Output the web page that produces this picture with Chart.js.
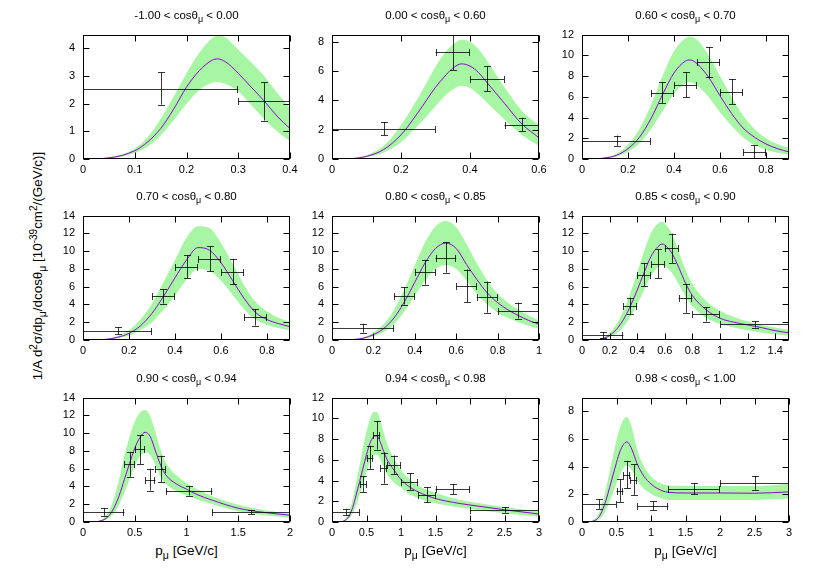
<!DOCTYPE html>
<html>
<head>
<meta charset="utf-8">
<script src="https://cdn.jsdelivr.net/npm/chart.js@4.4.0/dist/chart.umd.min.js"></script>
<style>
  body { margin: 0; background: #fff; font-family: "Liberation Sans", Arial, sans-serif; }
  #wrap { position: relative; width: 830px; height: 581px; overflow: hidden; }
  #wrap canvas { position: absolute; }
  .ttl { position: absolute; width: 207px; text-align: center; font-size: 11.5px; line-height: 14px; white-space: nowrap; }
  .xlab { position: absolute; width: 207px; text-align: center; font-size: 13.5px; line-height: 16px; white-space: nowrap; }
  .ylab { position: absolute; left: 37px; top: 266px; font-size: 13.4px; white-space: nowrap;
          transform: translate(-50%, -50%) rotate(-90deg); }
  .sb { font-size: 0.78em; position: relative; top: 0.35em; }
  .sp { font-size: 0.75em; position: relative; top: -0.45em; }
</style>
</head>
<body>
<div id="wrap">
  <div class="ylab">1/A d<span class="sp">2</span>σ/dp<span class="sb">μ</span>/dcosθ<span class="sb">μ</span> [10<span class="sp">-39</span>cm<span class="sp">2</span>/(GeV/c)]</div>
</div>
<script>
// cos(theta_mu) bins
const cosLo = ['-1.00', '0.00', '0.60', '0.70', '0.80', '0.85', '0.90', '0.94', '0.98'];
const cosHi = ['0.00', '0.60', '0.70', '0.80', '0.85', '0.90', '0.94', '0.98', '1.00'];

// axis ranges and ticks
const xMax = [0.4, 0.6, 0.9, 0.9, 1, 1.5, 2, 3, 3];
const yMax = [4.5, 8.5, 12, 14, 14, 14, 14, 12, 9];
const xt1 = [0, 0.1, 0.2, 0.3, 0.4];
const xt2 = [0, 0.2, 0.4, 0.6];
const xt3 = [0, 0.2, 0.4, 0.6, 0.8];
const xt5 = [0, 0.2, 0.4, 0.6, 0.8, 1];
const xt6 = [0, 0.2, 0.4, 0.6, 0.8, 1, 1.2, 1.4];
const xt7 = [0, 0.5, 1, 1.5, 2];
const xt8 = [0, 0.5, 1, 1.5, 2, 2.5, 3];
const yt1 = [0, 1, 2, 3, 4];
const yt2 = [0, 1, 2, 3, 4, 5, 6, 7, 8];
const yt12 = [0, 2, 4, 6, 8, 10, 12];
const yt14 = [0, 2, 4, 6, 8, 10, 12, 14];
const yt9 = [0, 2, 4, 6, 8];

// model curve (mid) and band (hi / lo)
const xs1 = [0, 0.05, 0.1, 0.125, 0.15, 0.175, 0.2, 0.225, 0.25, 0.26, 0.275, 0.3, 0.325, 0.35, 0.375, 0.4];
const mid1 = [0, 0.04, 0.3, 0.62, 1.1, 1.8, 2.6, 3.2, 3.58, 3.62, 3.52, 3.1, 2.6, 2.1, 1.55, 1.1];
const hi1 = [0, 0.06, 0.38, 0.8, 1.45, 2.25, 3.1, 3.85, 4.38, 4.47, 4.4, 3.95, 3.5, 3.0, 2.4, 1.85];
const lo1 = [0, 0.02, 0.22, 0.45, 0.85, 1.4, 2.0, 2.5, 2.76, 2.78, 2.72, 2.45, 1.95, 1.45, 1.0, 0.64];

const xs2 = [0, 0.05, 0.1, 0.15, 0.2, 0.25, 0.3, 0.325, 0.35, 0.375, 0.4, 0.425, 0.45, 0.5, 0.55, 0.6];
const mid2 = [0, 0.02, 0.18, 0.65, 1.65, 3.2, 4.9, 5.6, 6.2, 6.5, 6.35, 5.9, 5.2, 3.8, 2.4, 1.45];
const hi2 = [0, 0.03, 0.25, 0.9, 2.3, 4.2, 6.3, 7.2, 7.8, 8.15, 8.0, 7.5, 6.7, 4.9, 3.3, 2.3];
const lo2 = [0, 0.01, 0.12, 0.45, 1.15, 2.3, 3.6, 4.25, 4.75, 5.0, 4.85, 4.4, 3.85, 2.7, 1.65, 0.88];

const xs3 = [0, 0.05, 0.1, 0.15, 0.2, 0.25, 0.3, 0.35, 0.4, 0.45, 0.47, 0.5, 0.55, 0.6, 0.65, 0.7, 0.75, 0.8, 0.85, 0.9];
const mid3 = [0, 0.01, 0.1, 0.35, 1.0, 2.1, 3.9, 6.2, 8.3, 9.45, 9.55, 9.2, 7.9, 6.1, 4.4, 3.0, 2.1, 1.45, 1.0, 0.68];
const hi3 = [0, 0.02, 0.15, 0.5, 1.4, 2.9, 5.2, 8.0, 10.4, 11.65, 11.8, 11.5, 10.0, 8.0, 6.0, 4.2, 2.9, 2.0, 1.45, 1.08];
const lo3 = [0, 0.005, 0.07, 0.25, 0.7, 1.5, 2.9, 4.6, 6.3, 7.3, 7.4, 7.1, 6.0, 4.5, 3.2, 2.1, 1.35, 0.9, 0.6, 0.4];

const xs4 = [0, 0.05, 0.1, 0.15, 0.2, 0.25, 0.3, 0.35, 0.4, 0.45, 0.5, 0.55, 0.6, 0.65, 0.7, 0.75, 0.8, 0.85, 0.9];
const mid4 = [0, 0.01, 0.08, 0.3, 0.75, 1.6, 3.0, 4.9, 7.0, 9.0, 10.4, 10.1, 8.7, 6.7, 4.7, 3.1, 2.3, 1.85, 1.5];
const hi4 = [0, 0.02, 0.12, 0.45, 1.1, 2.3, 4.1, 6.5, 9.0, 11.5, 12.8, 12.6, 10.9, 8.6, 6.2, 4.3, 3.2, 2.5, 2.05];
const lo4 = [0, 0.005, 0.05, 0.2, 0.5, 1.1, 2.0, 3.4, 5.0, 6.8, 8.0, 7.8, 6.7, 5.1, 3.5, 2.3, 1.7, 1.35, 1.08];

const xs5 = [0, 0.05, 0.1, 0.15, 0.2, 0.25, 0.3, 0.35, 0.4, 0.45, 0.5, 0.55, 0.6, 0.65, 0.7, 0.75, 0.8, 0.85, 0.9, 0.95, 1.0];
const mid5 = [0, 0.005, 0.05, 0.2, 0.6, 1.3, 2.5, 4.3, 6.5, 8.7, 10.3, 10.9, 10.3, 8.5, 6.8, 5.3, 4.2, 3.4, 2.75, 2.2, 1.78];
const hi5 = [0, 0.01, 0.08, 0.3, 0.85, 1.8, 3.4, 5.7, 8.4, 11.0, 12.8, 13.4, 12.7, 10.8, 8.6, 6.7, 5.2, 4.2, 3.4, 2.75, 2.23];
const lo5 = [0, 0.003, 0.03, 0.12, 0.4, 0.9, 1.8, 3.2, 5.0, 6.7, 8.0, 8.45, 8.0, 6.7, 5.2, 4.0, 3.1, 2.5, 2.0, 1.6, 1.26];

const xs6 = [0, 0.1, 0.15, 0.2, 0.25, 0.3, 0.35, 0.4, 0.45, 0.5, 0.55, 0.58, 0.6, 0.65, 0.7, 0.75, 0.8, 0.9, 1.0, 1.1, 1.2, 1.3, 1.4, 1.5];
const mid6 = [0, 0.02, 0.15, 0.5, 1.2, 2.3, 3.8, 5.6, 7.6, 9.4, 10.5, 10.8, 10.7, 9.8, 8.2, 6.4, 5.0, 3.4, 2.45, 2.0, 1.7, 1.4, 1.05, 0.8];
const hi6 = [0, 0.04, 0.25, 0.8, 1.8, 3.3, 5.3, 7.6, 10.0, 12.0, 13.1, 13.3, 13.1, 12.0, 10.0, 7.9, 6.3, 4.4, 3.3, 2.6, 2.1, 1.7, 1.4, 1.15];
const lo6 = [0, 0.01, 0.08, 0.3, 0.75, 1.5, 2.6, 4.0, 5.6, 7.2, 8.2, 8.4, 8.3, 7.6, 6.3, 4.9, 3.8, 2.5, 1.8, 1.4, 1.1, 0.85, 0.65, 0.5];

const xs7 = [0, 0.1, 0.2, 0.25, 0.3, 0.35, 0.4, 0.45, 0.5, 0.55, 0.6, 0.65, 0.7, 0.75, 0.8, 0.9, 1.0, 1.1, 1.25, 1.5, 1.75, 2.0];
const mid7 = [0, 0.02, 0.25, 0.7, 1.6, 3.0, 4.8, 6.6, 8.3, 9.5, 10.1, 9.6, 8.0, 6.4, 5.3, 4.3, 3.7, 3.1, 2.45, 1.55, 1.08, 0.76];
const hi7 = [0, 0.04, 0.45, 1.2, 2.7, 4.9, 7.4, 9.6, 11.3, 12.3, 12.6, 11.9, 10.1, 8.1, 6.7, 5.3, 4.4, 3.7, 2.9, 1.95, 1.35, 0.94];
const lo7 = [0, 0.01, 0.15, 0.45, 1.0, 2.0, 3.3, 4.8, 6.3, 7.4, 7.85, 7.5, 6.4, 5.1, 4.3, 3.5, 3.0, 2.55, 2.0, 1.2, 0.75, 0.47];

const xs8 = [0, 0.1, 0.15, 0.2, 0.25, 0.3, 0.35, 0.4, 0.45, 0.5, 0.55, 0.6, 0.65, 0.7, 0.75, 0.8, 0.9, 1.0, 1.1, 1.25, 1.5, 1.75, 2.0, 2.5, 3.0];
const mid8 = [0, 0.005, 0.05, 0.2, 0.6, 1.4, 2.6, 3.9, 5.2, 6.5, 7.6, 8.2, 8.3, 7.7, 6.8, 6.0, 5.0, 4.1, 3.5, 2.9, 2.26, 1.9, 1.64, 1.18, 0.77];
const hi8 = [0, 0.01, 0.1, 0.35, 1.0, 2.2, 3.8, 5.5, 7.2, 8.7, 9.9, 10.6, 10.6, 9.8, 8.6, 7.5, 6.1, 5.0, 4.3, 3.5, 2.8, 2.3, 1.95, 1.45, 1.02];
const lo8 = [0, 0.002, 0.02, 0.1, 0.35, 0.8, 1.6, 2.6, 3.6, 4.8, 5.8, 6.4, 6.5, 6.0, 5.3, 4.6, 3.8, 3.3, 2.8, 2.3, 1.8, 1.5, 1.25, 0.85, 0.5];

const xs9 = [0, 0.1, 0.2, 0.25, 0.3, 0.35, 0.4, 0.45, 0.5, 0.55, 0.6, 0.65, 0.7, 0.75, 0.8, 0.9, 1.0, 1.1, 1.25, 1.5, 1.75, 2.0, 2.5, 3.0];
const mid9 = [0, 0.01, 0.15, 0.4, 0.9, 1.6, 2.5, 3.4, 4.3, 5.1, 5.6, 5.8, 5.5, 4.9, 4.2, 3.3, 2.75, 2.4, 2.15, 2.1, 2.1, 2.1, 2.08, 2.18];
const hi9 = [0, 0.02, 0.3, 0.7, 1.5, 2.5, 3.6, 4.8, 5.9, 6.8, 7.4, 7.6, 7.2, 6.3, 5.2, 4.0, 3.3, 2.9, 2.65, 2.6, 2.6, 2.6, 2.6, 2.75];
const lo9 = [0, 0, 0.05, 0.2, 0.45, 0.9, 1.5, 2.1, 2.8, 3.4, 3.9, 4.1, 3.9, 3.5, 3.0, 2.4, 2.05, 1.8, 1.6, 1.6, 1.6, 1.6, 1.6, 1.7];

// data points: centre, bin edges, y error
const px1 = [0.15, 0.35], py1 = [2.55, 2.08], pxl1 = [0, 0.3], pxh1 = [0.3, 0.4], pe1 = [0.58, 0.69];
const px2 = [0.15, 0.35, 0.45, 0.55], py2 = [2.08, 7.28, 5.48, 2.35];
const pxl2 = [0, 0.3, 0.4, 0.5], pxh2 = [0.3, 0.4, 0.5, 0.6], pe2 = [0.44, 1.2, 0.85, 0.47];
const px3 = [0.15, 0.35, 0.45, 0.55, 0.65, 0.75], py3 = [1.76, 6.4, 7.15, 9.35, 6.5, 0.68];
const pxl3 = [0, 0.3, 0.4, 0.5, 0.6, 0.7], pxh3 = [0.3, 0.4, 0.5, 0.6, 0.7, 0.8], pe3 = [0.5, 1.0, 1.2, 1.45, 1.2, 0.65];
const px4 = [0.15, 0.35, 0.45, 0.55, 0.65, 0.75], py4 = [1.04, 4.9, 8.24, 9.14, 7.7, 2.55];
const pxl4 = [0, 0.3, 0.4, 0.5, 0.6, 0.7], pxh4 = [0.3, 0.4, 0.5, 0.6, 0.7, 0.8], pe4 = [0.42, 0.8, 1.3, 1.42, 1.44, 0.93];
const px5 = [0.15, 0.35, 0.45, 0.55, 0.65, 0.75, 0.9], py5 = [1.33, 4.96, 7.63, 9.28, 6.08, 4.82, 3.31];
const pxl5 = [0, 0.3, 0.4, 0.5, 0.6, 0.7, 0.8], pxh5 = [0.3, 0.4, 0.5, 0.6, 0.7, 0.8, 1.0], pe5 = [0.5, 0.97, 1.4, 1.7, 1.85, 1.75, 0.9];
const px6 = [0.15, 0.35, 0.45, 0.55, 0.65, 0.75, 0.9, 1.25], py6 = [0.54, 3.85, 7.37, 8.6, 10.32, 4.68, 2.88, 1.76];
const pxl6 = [0, 0.3, 0.4, 0.5, 0.6, 0.7, 0.8, 1.0], pxh6 = [0.3, 0.4, 0.5, 0.6, 0.7, 0.8, 1.0, 1.5];
const pe6 = [0.36, 0.9, 1.3, 1.65, 1.65, 1.62, 0.8, 0.36];
const px7 = [0.2, 0.45, 0.55, 0.65, 0.75, 1.025, 1.625], py7 = [1.12, 6.5, 8.16, 4.76, 5.96, 3.5, 1.12];
const pxl7 = [0, 0.4, 0.5, 0.6, 0.7, 0.8, 1.25], pxh7 = [0.4, 0.5, 0.6, 0.7, 0.8, 1.25, 2.0], pe7 = [0.42, 1.4, 1.63, 1.23, 1.5, 0.52, 0.25];
const px8 = [0.2, 0.45, 0.55, 0.65, 0.75, 0.9, 1.125, 1.375, 1.75, 2.5], py8 = [0.96, 3.65, 6.22, 8.36, 5.2, 5.51, 3.9, 2.63, 3.16, 1.18];
const pxl8 = [0, 0.4, 0.5, 0.6, 0.7, 0.8, 1.0, 1.25, 1.5, 2.0], pxh8 = [0.4, 0.5, 0.6, 0.7, 0.8, 1.0, 1.25, 1.5, 2.0, 3.0];
const pe8 = [0.31, 0.75, 1.13, 1.37, 1.5, 0.9, 0.8, 0.74, 0.5, 0.28];
const px9 = [0.25, 0.55, 0.65, 0.75, 1.025, 1.625, 2.5], py9 = [1.3, 2.27, 3.43, 3.06, 1.18, 2.39, 2.83];
const pxl9 = [0, 0.5, 0.6, 0.7, 0.8, 1.25, 2.0], pxh9 = [0.5, 0.6, 0.7, 0.8, 1.25, 2.0, 3.0], pe9 = [0.35, 0.81, 1.0, 1.1, 0.33, 0.4, 0.5];

const panels = [
  { xs: xs1, mid: mid1, hi: hi1, lo: lo1, px: px1, py: py1, pxl: pxl1, pxh: pxh1, pe: pe1, xt: xt1, yt: yt1 },
  { xs: xs2, mid: mid2, hi: hi2, lo: lo2, px: px2, py: py2, pxl: pxl2, pxh: pxh2, pe: pe2, xt: xt2, yt: yt2 },
  { xs: xs3, mid: mid3, hi: hi3, lo: lo3, px: px3, py: py3, pxl: pxl3, pxh: pxh3, pe: pe3, xt: xt3, yt: yt12 },
  { xs: xs4, mid: mid4, hi: hi4, lo: lo4, px: px4, py: py4, pxl: pxl4, pxh: pxh4, pe: pe4, xt: xt3, yt: yt14 },
  { xs: xs5, mid: mid5, hi: hi5, lo: lo5, px: px5, py: py5, pxl: pxl5, pxh: pxh5, pe: pe5, xt: xt5, yt: yt14 },
  { xs: xs6, mid: mid6, hi: hi6, lo: lo6, px: px6, py: py6, pxl: pxl6, pxh: pxh6, pe: pe6, xt: xt6, yt: yt14 },
  { xs: xs7, mid: mid7, hi: hi7, lo: lo7, px: px7, py: py7, pxl: pxl7, pxh: pxh7, pe: pe7, xt: xt7, yt: yt14 },
  { xs: xs8, mid: mid8, hi: hi8, lo: lo8, px: px8, py: py8, pxl: pxl8, pxh: pxh8, pe: pe8, xt: xt8, yt: yt12 },
  { xs: xs9, mid: mid9, hi: hi9, lo: lo9, px: px9, py: py9, pxl: pxl9, pxh: pxh9, pe: pe9, xt: xt8, yt: yt9 }
];

// layout of the 3x3 grid (plot-area corners)
const colL = [83, 332, 582];
const rowT = [30, 211, 393];
const W = 207, H = 129;
const padL = 45, padT = 10, padR = 12, padB = 20;
const tickLen = 6;
const band = 'rgb(166, 246, 164)';
const purple = '#9400d3';
const font = { family: '"Liberation Sans", Arial, sans-serif', size: 11 };

// x/y error bars drawn through the chart scales
function errBars(p) {
  return {
    id: 'errbars',
    afterDatasetsDraw(chart) {
      const c = chart.ctx, xs = chart.scales.x, ys = chart.scales.y;
      c.save();
      c.beginPath();
      c.rect(chart.chartArea.left, chart.chartArea.top, chart.chartArea.width, chart.chartArea.height);
      c.clip();
      c.strokeStyle = 'rgba(0,0,0,0.78)';
      c.lineWidth = 1;
      p.px.forEach((x, j) => {
        const cx = xs.getPixelForValue(x), cy = Math.round(ys.getPixelForValue(p.py[j])) + 0.5;
        const x0 = xs.getPixelForValue(p.pxl[j]), x1 = xs.getPixelForValue(p.pxh[j]);
        const y0 = ys.getPixelForValue(p.py[j] - p.pe[j]), y1 = ys.getPixelForValue(p.py[j] + p.pe[j]);
        const vx = Math.round(cx) + 0.5;
        c.beginPath();
        c.moveTo(x0, cy); c.lineTo(x1, cy);
        c.moveTo(Math.round(x0) + 0.5, cy - 3.5); c.lineTo(Math.round(x0) + 0.5, cy + 3.5);
        c.moveTo(Math.round(x1) - 0.5, cy - 3.5); c.lineTo(Math.round(x1) - 0.5, cy + 3.5);
        c.moveTo(vx, y0); c.lineTo(vx, y1);
        c.moveTo(vx - 3.5, Math.round(y0) + 0.5); c.lineTo(vx + 3.5, Math.round(y0) + 0.5);
        c.moveTo(vx - 3.5, Math.round(y1) + 0.5); c.lineTo(vx + 3.5, Math.round(y1) + 0.5);
        c.stroke();
      });
      c.restore();
    }
  };
}

// gnuplot-like box with inward ticks on all four sides
const frame = {
  id: 'frame',
  afterDraw(chart) {
    const c = chart.ctx, a = chart.chartArea;
    const l = Math.round(a.left) + 0.5, r = Math.round(a.right) - 0.5;
    const t = Math.round(a.top) + 0.5, b = Math.round(a.bottom) - 0.5;
    c.save();
    c.strokeStyle = '#000';
    c.lineWidth = 1;
    c.beginPath();
    chart.scales.x.ticks.forEach(tk => {
      const x = Math.round(chart.scales.x.getPixelForValue(tk.value)) + 0.5;
      c.moveTo(x, b); c.lineTo(x, b - tickLen);
      c.moveTo(x, t); c.lineTo(x, t + tickLen);
    });
    chart.scales.y.ticks.forEach(tk => {
      const y = Math.round(chart.scales.y.getPixelForValue(tk.value)) + 0.5;
      c.moveTo(l, y); c.lineTo(l + tickLen, y);
      c.moveTo(r, y); c.lineTo(r - tickLen, y);
    });
    c.stroke();
    c.strokeRect(l, t, r - l, b - t);
    c.restore();
  }
};

const wrap = document.getElementById('wrap');
const fmt = v => String(Number(v.toFixed(3)));

panels.forEach((p, i) => {
  const L = colL[i % 3], T = rowT[Math.floor(i / 3)];

  const cv = document.createElement('canvas');
  cv.width = padL + W + padR;
  cv.height = padT + H + padB;
  cv.style.left = (L - padL) + 'px';
  cv.style.top = (T - padT) + 'px';
  wrap.appendChild(cv);

  const ttl = document.createElement('div');
  ttl.className = 'ttl';
  ttl.style.left = L + 'px';
  ttl.style.top = (T - 22) + 'px';
  ttl.innerHTML = cosLo[i] + ' &lt; cosθ<span class="sb">μ</span> &lt; ' + cosHi[i];
  wrap.appendChild(ttl);

  if (i >= 6) {
    const xl = document.createElement('div');
    xl.className = 'xlab';
    xl.style.left = L + 'px';
    xl.style.top = (T + H + 21) + 'px';
    xl.innerHTML = 'p<span class="sb">μ</span> [GeV/c]';
    wrap.appendChild(xl);
  }

  const pts = arr => p.xs.map((x, j) => ({ x: x, y: arr[j] }));

  new Chart(cv, {
    type: 'line',
    data: {
      datasets: [
        // index 0 is painted last, so the model line sits on top of the band
        { data: pts(p.mid), fill: false, borderColor: purple, borderWidth: 1,
          pointRadius: 0, cubicInterpolationMode: 'monotone' },
        { data: pts(p.hi), fill: '+1', backgroundColor: band, borderColor: 'rgba(0,0,0,0)', borderWidth: 0,
          pointRadius: 0, cubicInterpolationMode: 'monotone' },
        { data: pts(p.lo), fill: false, borderColor: 'rgba(0,0,0,0)', borderWidth: 0,
          pointRadius: 0, cubicInterpolationMode: 'monotone' }
      ]
    },
    options: {
      responsive: false,
      animation: false,
      events: [],
      layout: { padding: { top: padT, right: padR, left: 0, bottom: 0 } },
      plugins: { legend: { display: false }, tooltip: { enabled: false } },
      scales: {
        x: {
          type: 'linear', min: 0, max: xMax[i],
          grid: { display: false, drawTicks: false }, border: { display: false },
          ticks: { font: font, color: '#000', padding: 4, maxRotation: 0, callback: fmt },
          afterBuildTicks: s => { s.ticks = p.xt.map(v => ({ value: v })); },
          afterFit: s => { s.height = padB; }
        },
        y: {
          min: 0, max: yMax[i],
          grid: { display: false, drawTicks: false }, border: { display: false },
          ticks: { font: font, color: '#000', padding: 8, callback: fmt },
          afterBuildTicks: s => { s.ticks = p.yt.map(v => ({ value: v })); },
          afterFit: s => { s.width = padL; }
        }
      }
    },
    plugins: [errBars(p), frame]
  });
});
</script>
</body>
</html>
